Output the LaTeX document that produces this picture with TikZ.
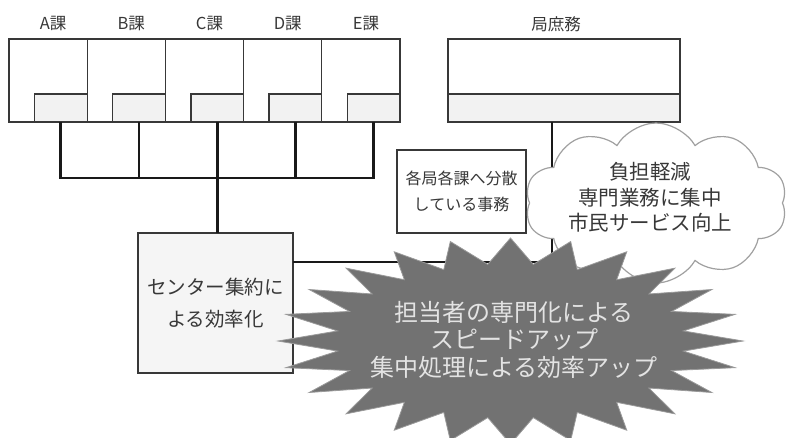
\documentclass[tikz,border=0pt]{standalone}
\usepackage{fontspec}
\setmainfont{Noto Sans CJK JP}
\usetikzlibrary{shapes.symbols}
\definecolor{ink}{HTML}{383838}
\definecolor{shade}{HTML}{F2F2F2}
\definecolor{centerfill}{HTML}{F5F5F5}
\definecolor{burstfill}{HTML}{727272}
\definecolor{burstline}{HTML}{9A9A9A}
\definecolor{bursttext}{HTML}{E3E3E3}
\definecolor{cloudline}{HTML}{A0A0A0}
\begin{document}
\begin{tikzpicture}[x=1pt,y=-1pt,
  box/.style={draw=ink, line width=1.3pt, inner sep=0pt, outer sep=0pt},
  sect/.style={box, fill=white, minimum width=78.2pt, minimum height=83pt},
  shadebox/.style={box, fill=shade, minimum width=52.7pt, minimum height=28pt},
  conn/.style={line width=2.8pt, draw=black!90},
  lbl/.style={text=ink, font=\fontsize{16.5}{18}\selectfont, inner sep=0pt}
]
\useasboundingbox (0,0) rectangle (786,437);
\clip (0,0) rectangle (786,437);

% section boxes
\foreach \n [count=\i from 0] in {A,B,C,D,E} {
  \node[sect] (s\n) at ({9+78.2*(\i+0.5)},80.5) {};
  \node[shadebox, anchor=south east] (h\n) at (s\n.south east) {};
  \node[lbl] (l\n) at ({9+78.2*(\i+0.5)+5},24) {\n 課};
}

% kyoku shomu
\node[box, fill=white, minimum width=232pt, minimum height=83pt] (kyoku) at (564,80.5) {};
\node[shadebox, minimum width=232pt, anchor=south] (kyokuS) at (kyoku.south) {};
\node[lbl] (lk) at (556,24) {局庶務};

% center box
\node[box, fill=centerfill, minimum width=155pt, minimum height=140pt, align=center,
      text=ink, font=\fontsize{19.5}{32}\selectfont] (center) at (215.5,303) {センター集約に\\よる効率化};

% bus
\coordinate (bus) at (0,178);
\draw[conn] (hA.south) |- (hE.south |- bus) -- (hE.south);
\foreach \n in {B,D} \draw[conn] (h\n.south) -- (h\n.south |- bus);
\draw[conn] (hC.south) -- (hC.south |- center.north);

% kyoku line
\coordinate (jk) at (552,262);
\draw[conn] (kyokuS.south -| jk) -- (jk) -- (jk -| center.east);

% bunsan box
\node[box, fill=white, minimum width=129pt, minimum height=83pt, align=center,
      text=ink, font=\fontsize{16}{26}\selectfont] (bunsan) at (461.5,191.5) {各局各課へ分散\\している事務};

% cloud
\node[cloud, cloud puffs=10, cloud puff arc=120, cloud ignores aspect,
      minimum width=262pt, minimum height=160pt, draw=cloudline, line width=1.2pt,
      fill=white] (cloud) at (656,203) {};
\node[text=ink, align=center, font=\fontsize{20.5}{25.5}\selectfont] (cloudtxt) at (650,197.5)
  {負担軽減\\専門業務に集中\\市民サービス向上};

% starburst
\filldraw[fill=burstfill, draw=burstline, line width=0.8pt]
  plot[samples at={0,...,47}, variable=\i]
  ({510.5+232.5*ifthenelse(mod(\i,2)==0,1,0.75)*cos(7.5*\i)},
   {341-103*ifthenelse(mod(\i,2)==0,1,0.75)*sin(7.5*\i)}) -- cycle;
\node[text=bursttext, align=center, font=\fontsize{24}{27.5}\selectfont] (burst) at (514,339.5)
  {担当者の専門化による\\スピードアップ\\集中処理による効率アップ};
\end{tikzpicture}
\end{document}
